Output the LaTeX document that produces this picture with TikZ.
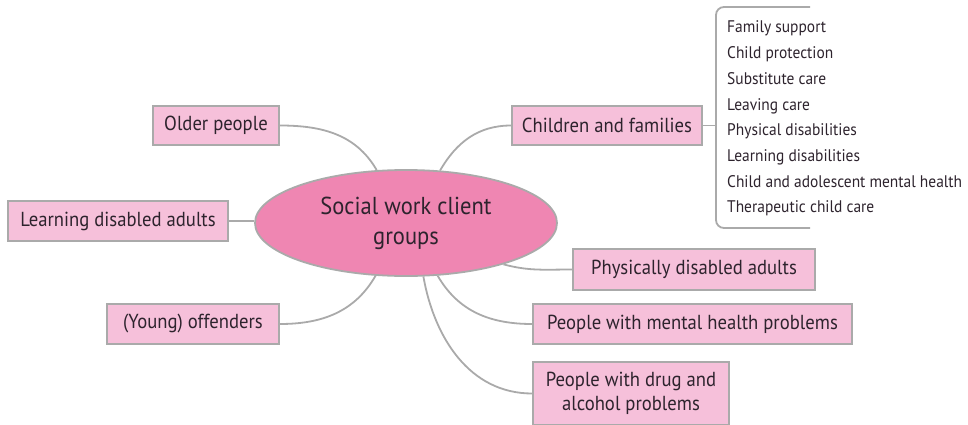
\documentclass[tikz,border=0pt]{standalone}
\usepackage{fontspec}
\setmainfont{PT Sans}[FakeStretch=0.92]
\usetikzlibrary{shapes.geometric}
\definecolor{boxpink}{RGB}{246,192,218}
\definecolor{hubpink}{RGB}{239,134,178}
\definecolor{edgegray}{RGB}{170,170,170}
\definecolor{txt}{RGB}{45,35,45}
\tikzset{
  box/.style={draw=edgegray, line width=1.8pt, fill=boxpink, text=txt, inner sep=0pt,
    font=\fontsize{20.3}{24}\selectfont, align=center},
  hubnode/.style={ellipse, draw=edgegray, line width=1.8pt, fill=hubpink, text=txt, inner sep=0pt,
    minimum width=302pt, minimum height=106pt, align=center, font=\fontsize{24.5}{30}\selectfont},
  conn/.style={draw=edgegray, line width=1.8pt},
  item/.style={anchor=west, inner sep=0pt, text height=12pt, text depth=4pt, text=txt,
    font=\fontsize{16.8}{19}\selectfont}
}
\begin{document}
\begin{tikzpicture}[x=1pt,y=-1pt]
\useasboundingbox (0,0) rectangle (968,425);
\node[hubnode] (hub) at (406,223) {Social work client\\groups};
\node[box, minimum width=126pt, minimum height=39pt] (older) at (216,125.5) {Older people};
\node[box, minimum width=220pt, minimum height=40pt] (learn) at (118,221) {Learning disabled adults};
\node[box, minimum width=172pt, minimum height=40pt] (young) at (193,324) {(Young) offenders};
\node[box, minimum width=190pt, minimum height=39pt] (child) at (607,125.5) {Children and families};
\node[box, minimum width=242pt, minimum height=41pt] (phys) at (694,269.5) {Physically disabled adults};
\node[box, minimum width=319pt, minimum height=40pt] (mental) at (692.5,324) {People with mental health problems};
\node[box, minimum width=196pt, minimum height=63pt] (drug) at (631,393.5) {People with drug and\\alcohol problems};
\draw[conn] (older.east) to[out=0,in=120] (hub.119);
\draw[conn] (learn.east) -- (learn.east -| hub.west);
\draw[conn] (young.east) to[out=0,in=240] (hub.240);
\draw[conn] (hub.57) to[out=60,in=180] (child.west);
\draw[conn] (hub.337) to[out=-15,in=180] (phys.west);
\draw[conn] (hub.301) to[out=-60,in=180] (mental.west);
\draw[conn] (hub.288) to[out=-80,in=180] (drug.west);
% bracket
\coordinate (btop) at (810,7);
\coordinate (bbot) at (810,228);
\coordinate (bx) at (716,125.5);
\draw[conn, rounded corners=8pt] (btop) -- (btop -| bx) -- (bbot -| bx) -- (bbot);
\draw[conn] (child.east) -- (bx);
% list
\node[item] (i1) at (727,29) {Family support};
\node[item] (i2) at (727,54.7) {Child protection};
\node[item] (i3) at (727,80.4) {Substitute care};
\node[item] (i4) at (727,106.1) {Leaving care};
\node[item] (i5) at (727,131.8) {Physical disabilities};
\node[item] (i6) at (727,157.5) {Learning disabilities};
\node[item] (i7) at (727,183.2) {Child and adolescent mental health};
\node[item] (i8) at (727,208.9) {Therapeutic child care};
\end{tikzpicture}
\end{document}
